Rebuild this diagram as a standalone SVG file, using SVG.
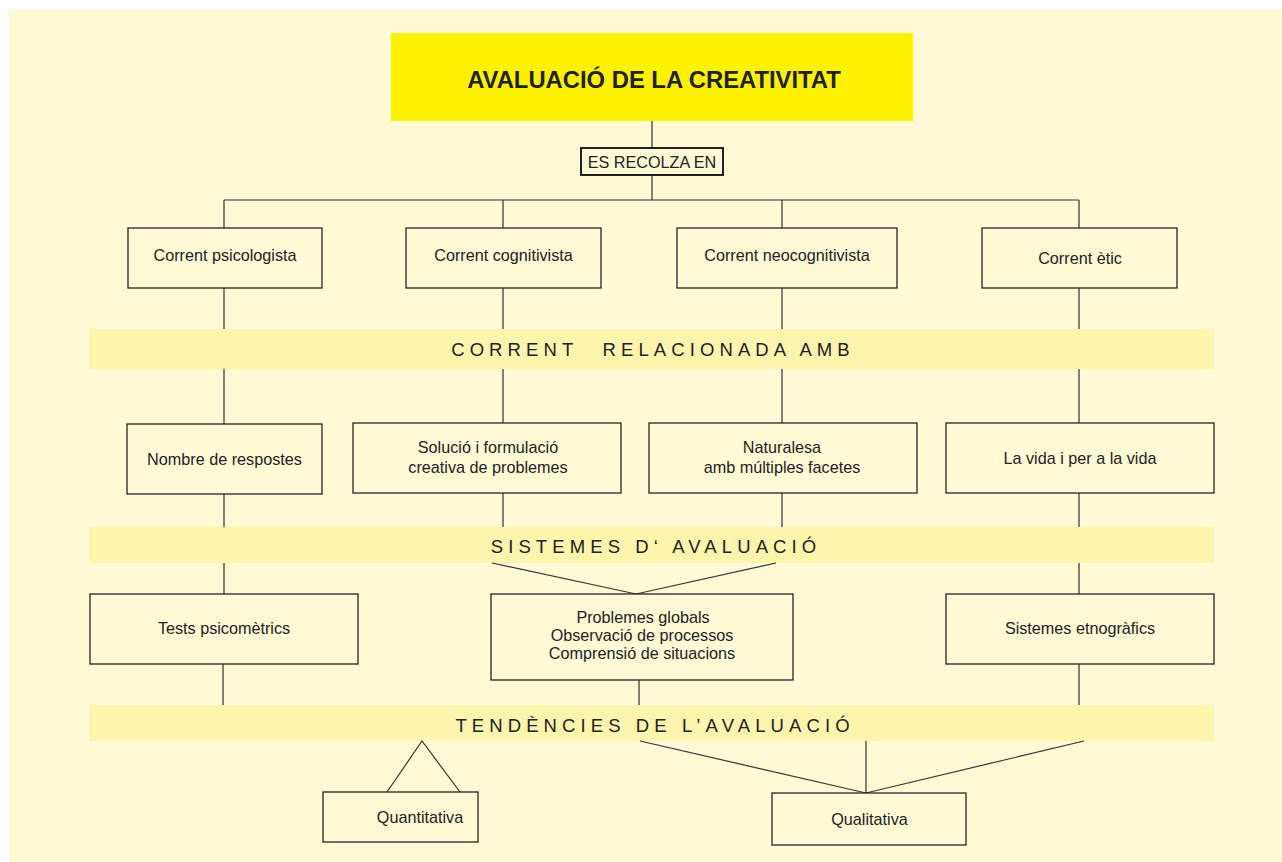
<svg xmlns="http://www.w3.org/2000/svg" width="1282" height="862" viewBox="0 0 1282 862">
<style>
.bg{fill:#fffad6}
.band{fill:#fdf4ae}
.box{fill:#fffad6;stroke:#262626;stroke-width:1.3}
.ln{stroke:#333;stroke-width:1.2;fill:none}
.t{font-family:"Liberation Sans",Arial,sans-serif;font-size:16.2px;fill:#222;text-anchor:middle}
.bt{font-family:"Liberation Sans",Arial,sans-serif;font-size:18.5px;fill:#222;text-anchor:middle;letter-spacing:5.1px}
.title{font-family:"Liberation Sans",Arial,sans-serif;font-size:23.8px;font-weight:bold;fill:#222;text-anchor:middle}
</style>
<rect x="0" y="0" width="1282" height="862" fill="#ffffff"/>
<rect class="bg" x="9" y="10" width="1273" height="852"/>
<g id="bands">
<rect class="band" x="89" y="329" width="1125" height="40"/>
<rect class="band" x="89" y="527" width="1125" height="36"/>
<rect class="band" x="89" y="705" width="1125" height="36"/>
<text class="bt" x="653" y="356" xml:space="preserve">CORRENT  <tspan dx="4">RELACIONADA AMB</tspan></text>
<text class="bt" x="656" y="553">SISTEMES D‘ AVALUACIÓ</text>
<text class="bt" x="655" y="732">TENDÈNCIES DE L’AVALUACIÓ</text>
</g>
<g id="connectors">
<path class="ln" d="M652 121V148M652 175V200M224 200H1079M224 200V228M503 200V228M782 200V228M1079 200V228"/>
<path class="ln" d="M224 288V329M503 288V329M782 288V329M1079 288V329"/>
<path class="ln" d="M224 369V424M503 369V423M782 369V423M1079 369V423"/>
<path class="ln" d="M224 494V527M503 493V527M782 493V527M1079 493V527"/>
<path class="ln" d="M224 563V594M1079 563V594M492 563L636 594L776 563"/>
<path class="ln" d="M223 664V705M639 680V705M1079 664V705"/>
<path class="ln" d="M387 792L422 741L460 792"/>
<path class="ln" d="M640 741L866 793L1084 741M866 741V793"/>
</g>
<g id="title">
<rect x="391" y="33" width="522" height="88" fill="#fff200"/>
<text class="title" x="654" y="88">AVALUACIÓ DE LA CREATIVITAT</text>
</g>
<g id="recolza">
<rect x="581" y="148" width="142" height="27" fill="#fffad6" stroke="#222" stroke-width="2"/>
<text class="t" x="652" y="167.5">ES RECOLZA EN</text>
</g>
<g id="n1"><rect class="box" x="128" y="228" width="194" height="60"/><text class="t" x="225" y="261">Corrent psicologista</text></g>
<g id="n2"><rect class="box" x="406" y="228" width="195" height="60"/><text class="t" x="503.5" y="261">Corrent cognitivista</text></g>
<g id="n3"><rect class="box" x="677" y="228" width="220" height="60"/><text class="t" x="787" y="261">Corrent neocognitivista</text></g>
<g id="n4"><rect class="box" x="982" y="228" width="195" height="60"/><text class="t" x="1080" y="264">Corrent ètic</text></g>
<g id="n5"><rect class="box" x="127" y="424" width="195" height="70"/><text class="t" x="224.5" y="465">Nombre de respostes</text></g>
<g id="n6"><rect class="box" x="353" y="423" width="268" height="70"/><text class="t" x="488" y="453">Solució i formulació</text><text class="t" x="488" y="473">creativa de problemes</text></g>
<g id="n7"><rect class="box" x="649" y="423" width="268" height="70"/><text class="t" x="782" y="453">Naturalesa</text><text class="t" x="782" y="473">amb múltiples facetes</text></g>
<g id="n8"><rect class="box" x="946" y="423" width="268" height="70"/><text class="t" x="1080" y="464">La vida i per a la vida</text></g>
<g id="n9"><rect class="box" x="90" y="594" width="268" height="70"/><text class="t" x="224" y="634">Tests psicomètrics</text></g>
<g id="n10"><rect class="box" x="491" y="594" width="302" height="86"/><text class="t" x="643" y="623">Problemes globals</text><text class="t" x="642" y="641">Observació de processos</text><text class="t" x="642" y="659">Comprensió de situacions</text></g>
<g id="n11"><rect class="box" x="946" y="594" width="268" height="70"/><text class="t" x="1080" y="634">Sistemes etnogràfics</text></g>
<g id="n12"><rect class="box" x="323" y="792" width="155" height="50"/><text class="t" x="420" y="823">Quantitativa</text></g>
<g id="n13"><rect class="box" x="772" y="793" width="194" height="52"/><text class="t" x="869.5" y="825">Qualitativa</text></g>
</svg>
